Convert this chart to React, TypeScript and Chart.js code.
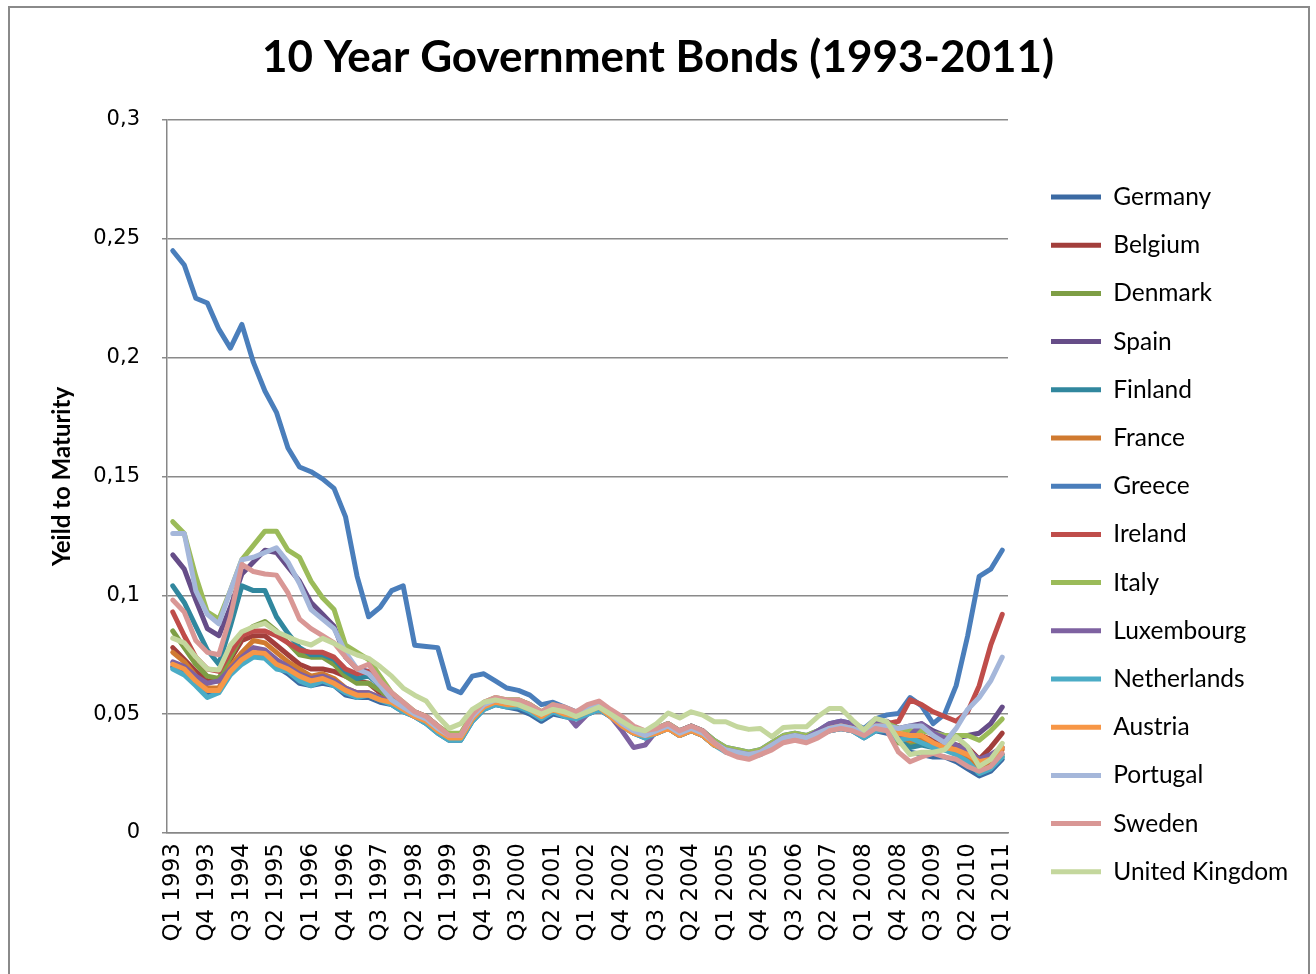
import React, { useEffect, useRef } from 'react';
import { Chart, registerables } from 'chart.js';

Chart.register(...registerables);

const TITLE = '10 Year Government Bonds (1993-2011)';
const Y_TITLE = 'Yeild to Maturity';

const YEARS = [1993, 1994, 1995, 1996, 1997, 1998, 1999, 2000, 2001, 2002, 2003, 2004, 2005, 2006, 2007, 2008, 2009, 2010, 2011];
const QUARTERS = ['Q1', 'Q2', 'Q3', 'Q4'];
const CATEGORIES: string[] = [];
YEARS.forEach((y) => QUARTERS.forEach((q) => {
  if (y < 2011 || q === 'Q1') CATEGORIES.push(`${q} ${y}`);
}));

const Y_TICKS = [0, 0.05, 0.1, 0.15, 0.2, 0.25, 0.3];

const COUNTRIES = ['Germany', 'Belgium', 'Denmark', 'Spain', 'Finland', 'France', 'Greece', 'Ireland', 'Italy', 'Luxembourg', 'Netherlands', 'Austria', 'Portugal', 'Sweden', 'United Kingdom'];
const COLORS = ['#3B6AA3', '#A23E3B', '#7E9E45', '#664D88', '#31879E', '#D07A30', '#4A7EBB', '#BF4D4A', '#9BBB59', '#7E62A1', '#4BACC6', '#F79646', '#A5B7DA', '#D99795', '#C4D79D'];

const germany = [0.070, 0.068, 0.063, 0.059, 0.060, 0.067, 0.072, 0.075, 0.074, 0.070, 0.067, 0.063, 0.062, 0.063, 0.062, 0.058, 0.057, 0.057, 0.055, 0.054, 0.051, 0.049, 0.046, 0.042, 0.039, 0.039,
  0.047, 0.052, 0.054, 0.053, 0.052, 0.050, 0.047, 0.050, 0.049, 0.048, 0.050, 0.052, 0.049, 0.045, 0.042, 0.040, 0.042, 0.044, 0.041, 0.043, 0.041, 0.037, 0.035, 0.033, 0.032, 0.033, 0.036, 0.039, 0.040, 0.039, 0.041, 0.043, 0.044, 0.043, 0.040, 0.043, 0.042,
  0.040, 0.034, 0.033, 0.032, 0.032, 0.030, 0.027, 0.024, 0.026, 0.031];
const belgium = [0.078, 0.073, 0.068, 0.064, 0.064, 0.073, 0.081, 0.083, 0.083, 0.079, 0.075, 0.071, 0.069, 0.069, 0.068, 0.066, 0.064, 0.063, 0.059, 0.056, 0.053, 0.050, 0.048, 0.044, 0.041, 0.041,
  0.049, 0.054, 0.056, 0.055, 0.054, 0.053, 0.050, 0.053, 0.051, 0.050, 0.052, 0.054, 0.050, 0.046, 0.043, 0.041, 0.043, 0.045, 0.042, 0.044, 0.042, 0.038, 0.035, 0.034, 0.033, 0.034, 0.037, 0.040, 0.041, 0.039, 0.042, 0.044, 0.045, 0.044, 0.042, 0.045, 0.045,
  0.040, 0.042, 0.041, 0.039, 0.038, 0.037, 0.036, 0.031, 0.036, 0.042];
const denmark = [0.085, 0.078, 0.071, 0.066, 0.065, 0.074, 0.083, 0.087, 0.089, 0.085, 0.080, 0.075, 0.074, 0.074, 0.071, 0.066, 0.063, 0.063, 0.060, 0.056, 0.053, 0.050, 0.048, 0.044, 0.041, 0.041,
  0.050, 0.054, 0.056, 0.056, 0.056, 0.054, 0.051, 0.053, 0.052, 0.050, 0.052, 0.054, 0.050, 0.046, 0.043, 0.042, 0.044, 0.046, 0.043, 0.045, 0.043, 0.039, 0.035, 0.034, 0.033, 0.035, 0.037, 0.040, 0.041, 0.040, 0.042, 0.044, 0.045, 0.044, 0.042, 0.045, 0.045,
  0.038, 0.037, 0.038, 0.036, 0.036, 0.034, 0.031, 0.026, 0.028, 0.032];
const spain = [0.117, 0.111, 0.098, 0.086, 0.083, 0.095, 0.109, 0.114, 0.119, 0.118, 0.112, 0.106, 0.097, 0.092, 0.087, 0.074, 0.069, 0.068, 0.064, 0.058, 0.054, 0.051, 0.049, 0.045, 0.041, 0.041,
  0.050, 0.054, 0.056, 0.055, 0.055, 0.053, 0.050, 0.053, 0.051, 0.050, 0.052, 0.054, 0.050, 0.046, 0.043, 0.041, 0.043, 0.045, 0.042, 0.044, 0.042, 0.038, 0.035, 0.034, 0.033, 0.034, 0.037, 0.040, 0.041, 0.040, 0.042, 0.045, 0.046, 0.044, 0.042, 0.046, 0.047,
  0.044, 0.045, 0.046, 0.043, 0.041, 0.040, 0.041, 0.042, 0.046, 0.053];
const finland = [0.104, 0.097, 0.087, 0.077, 0.071, 0.087, 0.104, 0.102, 0.102, 0.091, 0.084, 0.078, 0.075, 0.075, 0.073, 0.068, 0.065, 0.066, 0.062, 0.057, 0.053, 0.050, 0.048, 0.044, 0.040, 0.040,
  0.048, 0.053, 0.055, 0.055, 0.054, 0.052, 0.049, 0.052, 0.051, 0.049, 0.051, 0.053, 0.050, 0.045, 0.042, 0.041, 0.042, 0.044, 0.041, 0.043, 0.041, 0.037, 0.035, 0.033, 0.033, 0.034, 0.036, 0.039, 0.040, 0.039, 0.041, 0.043, 0.044, 0.043, 0.041, 0.044, 0.044,
  0.039, 0.036, 0.037, 0.036, 0.035, 0.034, 0.030, 0.025, 0.028, 0.033];
const france = [0.076, 0.072, 0.066, 0.061, 0.061, 0.070, 0.076, 0.081, 0.080, 0.076, 0.072, 0.069, 0.066, 0.067, 0.065, 0.061, 0.059, 0.059, 0.057, 0.055, 0.052, 0.049, 0.047, 0.043, 0.040, 0.040,
  0.048, 0.053, 0.055, 0.054, 0.054, 0.052, 0.049, 0.052, 0.050, 0.049, 0.051, 0.053, 0.049, 0.045, 0.042, 0.041, 0.043, 0.044, 0.041, 0.043, 0.041, 0.037, 0.035, 0.033, 0.033, 0.034, 0.037, 0.039, 0.040, 0.039, 0.041, 0.044, 0.045, 0.044, 0.041, 0.044, 0.044,
  0.040, 0.039, 0.039, 0.037, 0.036, 0.035, 0.032, 0.027, 0.030, 0.035];
const greece = [0.245, 0.239, 0.225, 0.223, 0.212, 0.204, 0.214, 0.198, 0.186, 0.177, 0.162, 0.154, 0.152, 0.149, 0.145, 0.133, 0.108, 0.091, 0.095, 0.102, 0.104, 0.079, 0.0785, 0.078, 0.061, 0.059,
  0.066, 0.067, 0.064, 0.061, 0.060, 0.058, 0.054, 0.055, 0.053, 0.051, 0.053, 0.054, 0.051, 0.047, 0.044, 0.042, 0.044, 0.046, 0.043, 0.045, 0.043, 0.039, 0.036, 0.035, 0.034, 0.035, 0.038, 0.041, 0.042, 0.041, 0.043, 0.046, 0.047, 0.046, 0.044, 0.048, 0.0497,
  0.0503, 0.057, 0.0535, 0.046, 0.050, 0.062, 0.083, 0.108, 0.111, 0.119];
const ireland = [0.093, 0.083, 0.074, 0.069, 0.068, 0.076, 0.083, 0.085, 0.085, 0.083, 0.080, 0.077, 0.076, 0.076, 0.074, 0.069, 0.067, 0.068, 0.064, 0.058, 0.054, 0.051, 0.049, 0.045, 0.041, 0.041,
  0.049, 0.054, 0.056, 0.055, 0.055, 0.053, 0.050, 0.053, 0.051, 0.050, 0.052, 0.054, 0.050, 0.046, 0.043, 0.041, 0.043, 0.045, 0.042, 0.044, 0.042, 0.038, 0.035, 0.034, 0.033, 0.034, 0.037, 0.040, 0.041, 0.040, 0.042, 0.044, 0.045, 0.044, 0.042, 0.045, 0.046,
  0.047, 0.056, 0.054, 0.051, 0.049, 0.047, 0.051, 0.062, 0.079, 0.092];
const italy = [0.131, 0.126, 0.108, 0.093, 0.090, 0.102, 0.115, 0.121, 0.127, 0.127, 0.119, 0.116, 0.106, 0.099, 0.094, 0.079, 0.076, 0.073, 0.066, 0.059, 0.055, 0.051, 0.049, 0.045, 0.042, 0.042,
  0.050, 0.055, 0.057, 0.056, 0.056, 0.054, 0.051, 0.054, 0.052, 0.050, 0.052, 0.054, 0.051, 0.047, 0.044, 0.042, 0.044, 0.046, 0.043, 0.045, 0.043, 0.039, 0.036, 0.035, 0.034, 0.035, 0.038, 0.041, 0.042, 0.041, 0.043, 0.045, 0.046, 0.045, 0.043, 0.046, 0.046,
  0.044, 0.043, 0.043, 0.042, 0.041, 0.041, 0.041, 0.039, 0.043, 0.048];
const luxembourg = [0.072, 0.070, 0.066, 0.063, 0.064, 0.069, 0.074, 0.078, 0.077, 0.073, 0.070, 0.067, 0.065, 0.066, 0.064, 0.061, 0.059, 0.059, 0.057, 0.055, 0.052, 0.049, 0.047, 0.043, 0.040, 0.040,
  0.048, 0.053, 0.055, 0.054, 0.054, 0.052, 0.049, 0.052, 0.051, 0.045, 0.050, 0.052, 0.049, 0.043, 0.036, 0.037, 0.043, 0.045, 0.043, 0.045, 0.043, 0.038, 0.035, 0.034, 0.033, 0.034, 0.037, 0.040, 0.041, 0.040, 0.043, 0.046, 0.047, 0.046, 0.042, 0.046, 0.046,
  0.041, 0.041, 0.046, 0.042, 0.040, 0.037, 0.035, 0.031, 0.033, 0.036];
const netherlands = [0.069, 0.0665, 0.062, 0.057, 0.059, 0.0665, 0.071, 0.074, 0.0735, 0.069, 0.068, 0.064, 0.062, 0.064, 0.062, 0.059, 0.057, 0.058, 0.056, 0.054, 0.051, 0.049, 0.046, 0.042, 0.039, 0.039,
  0.047, 0.052, 0.054, 0.053, 0.053, 0.051, 0.048, 0.051, 0.049, 0.048, 0.050, 0.052, 0.049, 0.045, 0.042, 0.040, 0.042, 0.044, 0.041, 0.043, 0.041, 0.037, 0.034, 0.033, 0.032, 0.033, 0.036, 0.039, 0.040, 0.039, 0.041, 0.043, 0.044, 0.043, 0.040, 0.043, 0.043,
  0.039, 0.040, 0.038, 0.036, 0.035, 0.033, 0.030, 0.025, 0.027, 0.032];
const austria = [0.071, 0.069, 0.064, 0.060, 0.060, 0.068, 0.073, 0.076, 0.0755, 0.071, 0.069, 0.066, 0.064, 0.065, 0.063, 0.060, 0.058, 0.058, 0.056, 0.055, 0.052, 0.049, 0.047, 0.043, 0.040, 0.040,
  0.048, 0.053, 0.055, 0.054, 0.054, 0.052, 0.049, 0.052, 0.050, 0.049, 0.051, 0.053, 0.049, 0.045, 0.042, 0.041, 0.042, 0.044, 0.041, 0.043, 0.041, 0.037, 0.035, 0.033, 0.033, 0.034, 0.037, 0.039, 0.040, 0.039, 0.041, 0.044, 0.045, 0.044, 0.042, 0.045, 0.045,
  0.042, 0.041, 0.041, 0.038, 0.036, 0.035, 0.033, 0.030, 0.031, 0.036];
const portugal = [0.126, 0.126, 0.102, 0.092, 0.088, 0.102, 0.115, 0.116, 0.118, 0.120, 0.114, 0.105, 0.094, 0.090, 0.086, 0.076, 0.069, 0.067, 0.062, 0.056, 0.053, 0.050, 0.048, 0.044, 0.041, 0.041,
  0.049, 0.054, 0.056, 0.055, 0.055, 0.053, 0.050, 0.053, 0.051, 0.050, 0.052, 0.054, 0.050, 0.046, 0.043, 0.041, 0.043, 0.045, 0.042, 0.044, 0.042, 0.038, 0.035, 0.034, 0.033, 0.034, 0.037, 0.040, 0.041, 0.040, 0.042, 0.044, 0.045, 0.044, 0.042, 0.045, 0.045,
  0.044, 0.045, 0.045, 0.041, 0.038, 0.044, 0.052, 0.057, 0.064, 0.074];
const sweden = [0.098, 0.093, 0.081, 0.076, 0.075, 0.091, 0.113, 0.110, 0.109, 0.1085, 0.101, 0.090, 0.086, 0.083, 0.080, 0.074, 0.069, 0.071, 0.064, 0.059, 0.055, 0.051, 0.049, 0.045, 0.041, 0.041,
  0.050, 0.055, 0.057, 0.056, 0.056, 0.054, 0.051, 0.054, 0.053, 0.051, 0.054, 0.0555, 0.052, 0.049, 0.045, 0.043, 0.044, 0.046, 0.043, 0.045, 0.043, 0.038, 0.034, 0.032, 0.031, 0.033, 0.035, 0.038, 0.039, 0.038, 0.040, 0.043, 0.044, 0.043, 0.041, 0.044, 0.043,
  0.034, 0.030, 0.032, 0.0335, 0.032, 0.031, 0.028, 0.026, 0.028, 0.0335];
const unitedKingdom = [0.082, 0.080, 0.074, 0.069, 0.0686, 0.079, 0.0847, 0.0868, 0.0882, 0.0847, 0.0826, 0.0805, 0.0791, 0.0819, 0.0798, 0.077, 0.0749, 0.0735, 0.070, 0.066, 0.061, 0.058, 0.0555, 0.049, 0.044, 0.046,
  0.052, 0.055, 0.056, 0.055, 0.054, 0.052, 0.050, 0.052, 0.051, 0.049, 0.051, 0.053, 0.050, 0.047, 0.044, 0.043, 0.046, 0.0505, 0.0484, 0.051, 0.0496, 0.0468, 0.0468, 0.0447, 0.0436, 0.044, 0.0405, 0.0444, 0.0447, 0.0447, 0.049, 0.0524, 0.0524, 0.0475, 0.0433, 0.0482, 0.0468,
  0.039, 0.033, 0.034, 0.034, 0.035, 0.0405, 0.0363, 0.028, 0.031, 0.0377];

const SERIES = [germany, belgium, denmark, spain, finland, france, greece, ireland, italy, luxembourg, netherlands, austria, portugal, sweden, unitedKingdom];

const LEGEND_FONT = 24.5;
const LEGEND_PAD = 48.2 - LEGEND_FONT;
const LINE_W = 50;

export default function App() {
  const ref = useRef<HTMLCanvasElement | null>(null);

  useEffect(() => {
    const canvas = ref.current;
    if (!canvas) return;
    const c2d = canvas.getContext('2d')!;
    c2d.font = `normal ${LEGEND_FONT}px Lato`;
    const tw = Math.max(...COUNTRIES.map((n) => c2d.measureText(n).width));
    const legendWidth = LEGEND_PAD + LINE_W + LEGEND_FONT / 2 + tw + 10;
    const legendLeft = 1051 - LEGEND_PAD;
    const rightAxis = legendLeft - 1008;
    const P = 1316 - legendLeft - legendWidth;

    const chart = new Chart(canvas, {
      type: 'line',
      data: {
        labels: CATEGORIES,
        datasets: SERIES.map((d, i) => ({
          label: COUNTRIES[i],
          data: d,
          borderColor: COLORS[i],
          backgroundColor: COLORS[i],
          borderWidth: 5,
          borderCapStyle: 'round',
          borderJoinStyle: 'round',
          pointRadius: 0,
          tension: 0,
          fill: false,
          order: SERIES.length - i,
          yAxisID: 'y',
        })),
      },
      options: {
        responsive: false,
        animation: false,
        layout: { padding: { top: 10, left: P, right: P, bottom: 0 } },
        plugins: {
          title: {
            display: true,
            text: TITLE,
            color: '#000',
            font: { family: 'Lato', size: 44, weight: 'bold', lineHeight: 1.2 },
            padding: { top: 21.6, bottom: 35.6 },
          },
          legend: {
            position: 'right',
            align: 'center',
            maxWidth: 600,
            title: { display: true, text: '', font: { size: 10, lineHeight: 1 }, padding: { top: 2 * (197 - LEGEND_FONT / 2) - 10 - LEGEND_PAD - 974 + 15 * 48.2 - 10, bottom: 0 } },
            labels: {
              usePointStyle: true,
              pointStyle: 'line',
              pointStyleWidth: LINE_W,
              color: '#000',
              font: { family: 'Lato', size: LEGEND_FONT },
              padding: LEGEND_PAD,
              sort: (a: any, b: any) => a.datasetIndex - b.datasetIndex,
            },
          },
          tooltip: { enabled: false },
        },
        scales: {
          x: {
            type: 'category',
            offset: true,
            grid: { display: false, drawTicks: false },
            border: { display: true, color: '#878787', width: 1.5 },
            ticks: {
              autoSkip: false,
              minRotation: 90,
              maxRotation: 90,
              padding: 10,
              color: '#000',
              font: { family: 'DejaVu Sans', size: 23 },
              callback: (_v: any, i: number) => (i % 3 === 0 ? CATEGORIES[i] : ''),
            },
            afterFit: (s: any) => { s.height = 141; },
          },
          y: {
            min: 0,
            max: 0.3,
            afterBuildTicks: (s: any) => { s.ticks = Y_TICKS.map((v) => ({ value: v })); },
            grid: { color: '#8a8a8a', lineWidth: 1.5, tickLength: 5, drawTicks: true },
            border: { display: true, color: '#878787', width: 1.5 },
            ticks: {
              padding: 22,
              color: '#000',
              font: { family: 'DejaVu Sans', size: 21 },
              callback: (v: any) => String(Math.round(Number(v) * 100) / 100).replace('.', ','),
            },
            title: {
              display: true,
              text: Y_TITLE,
              color: '#000',
              font: { family: 'Lato', size: 24, weight: 'bold', lineHeight: 1.2 },
              padding: { top: 62 - P - 14.4, bottom: 0 },
            },
            afterFit: (s: any) => { s.width = 167 - P; },
          },
          yR: {
            position: 'right',
            display: true,
            min: 0,
            max: 0.3,
            grid: { display: false, drawTicks: false },
            border: { display: false },
            ticks: { display: false },
            afterFit: (s: any) => { s.width = rightAxis; },
          },
        },
      },
    } as any);
    return () => chart.destroy();
  }, []);

  return (
    <div style={{ position: 'fixed', left: 0, top: 0, width: 1316, height: 974, overflow: 'hidden', background: '#fff' }}>
      <canvas ref={ref} width={1316} height={974} style={{ position: 'absolute', left: 0, top: 0 }} />
      <div style={{ position: 'absolute', left: 8, top: 6, width: 1298, height: 980, border: '2px solid #8a8a8a', pointerEvents: 'none' }} />
    </div>
  );
}
